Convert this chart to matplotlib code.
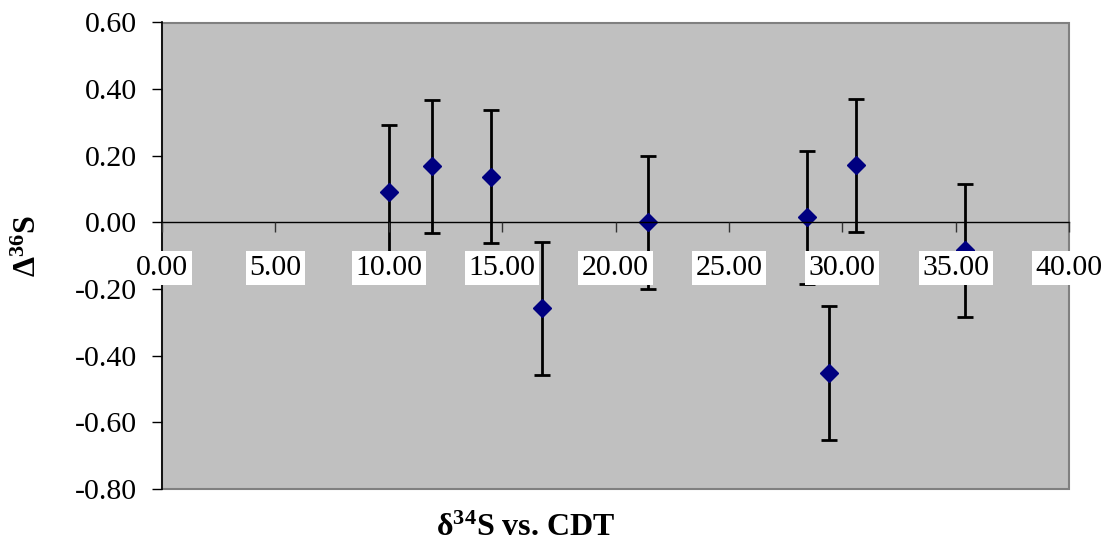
# delta-36S vs delta-34S scatter with error bars, Excel-style grey plot area

import matplotlib
matplotlib.use("Agg")
import matplotlib.pyplot as plt
from matplotlib.patches import Rectangle
from matplotlib.ticker import FuncFormatter, MultipleLocator

d34s = [10.0, 11.9, 14.5, 16.75, 21.45, 28.45, 29.4, 30.6, 35.4]
cap36s = [0.092, 0.168, 0.137, -0.258, 0.0, 0.015, -0.452, 0.171, -0.084]
err36s = [0.2, 0.2, 0.2, 0.2, 0.2, 0.2, 0.2, 0.2, 0.2]

plt.rcParams['font.family'] = ['Liberation Serif', 'DejaVu Serif']
plt.rcParams['axes.unicode_minus'] = False
plt.rcParams['mathtext.fontset'] = 'custom'
plt.rcParams['mathtext.rm'] = 'Liberation Serif'
plt.rcParams['mathtext.bf'] = 'Liberation Serif:bold'

fig = plt.figure(figsize=(11.07, 5.44), dpi=100)
ax = fig.add_axes([162 / 1107, 1 - 489 / 544, (1069 - 162) / 1107, (489 - 22.5) / 544])
ax.set_facecolor('#c0c0c0')
ax.set_axisbelow(False)

ax.errorbar(d34s, cap36s, yerr=err36s, fmt='D', color='#000080', markersize=9,
            ecolor='black', elinewidth=2.0, capsize=5.5, capthick=2.0, zorder=2)

ax.set_xlim(0, 40)
ax.set_ylim(-0.8, 0.6)
ax.xaxis.set_major_locator(MultipleLocator(5))
ax.yaxis.set_major_locator(MultipleLocator(0.2))
ax.xaxis.set_major_formatter(FuncFormatter(lambda v, p: '%.2f' % v))
ax.yaxis.set_major_formatter(FuncFormatter(lambda v, p: ('%.2f' % v).replace('\u2212', '-')))

# x axis crosses at zero
ax.spines['bottom'].set_position(('data', 0))
ax.spines['bottom'].set_color('black')
ax.spines['bottom'].set_linewidth(1.0)
ax.spines['left'].set_color('black')
ax.spines['left'].set_linewidth(1.2)
ax.spines['top'].set_visible(False)
ax.spines['right'].set_visible(False)

# grey plot-area border
ax.add_patch(Rectangle((0, 0), 1, 1, transform=ax.transAxes, fill=False,
                       edgecolor='#808080', linewidth=1.5, zorder=0.5, clip_on=False))

ax.tick_params(axis='x', direction='out', length=7, width=1, color='#333333',
               labelsize=21.5, pad=16.5)
ax.tick_params(axis='y', direction='out', length=7, width=1, color='black',
               labelsize=21.5, pad=11)

fig.canvas.draw()
xlabels = ax.get_xticklabels()
for lbl in xlabels[:-1]:
    lbl.set_bbox(dict(facecolor='white', edgecolor='none', pad=2.5))

fig.text(28 / 1107, 1 - 246 / 544, r'$\mathbf{\Delta^{36}S}$', rotation=90,
         fontsize=23, ha='center', va='center')
fig.text(526 / 1107, 1 - 528 / 544, r'$\mathbf{\delta^{34}S}$ vs. CDT',
         fontsize=23, fontweight='bold', ha='center', va='center')

fig.savefig('out.png', dpi=100)
